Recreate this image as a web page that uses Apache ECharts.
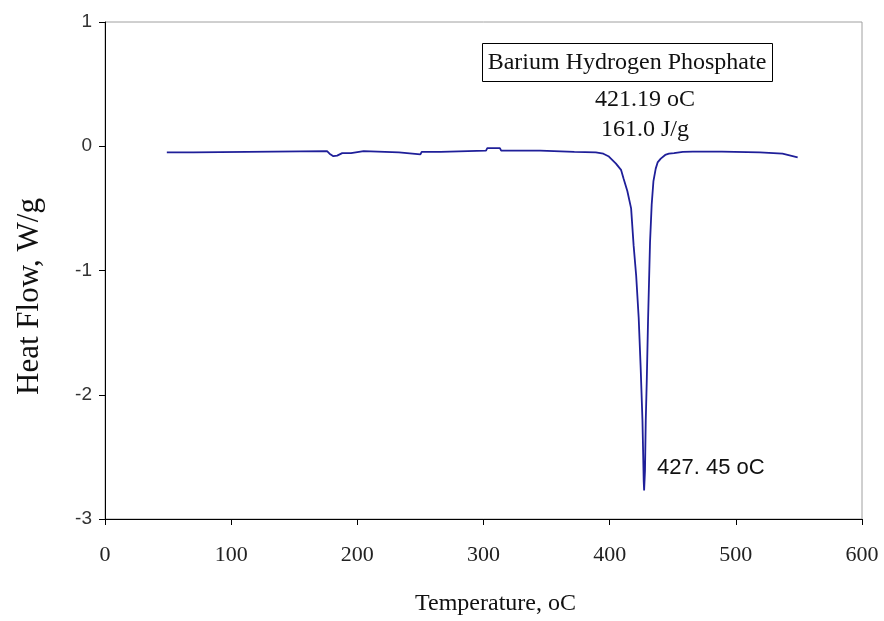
<!DOCTYPE html>
<html>
<head>
<meta charset="utf-8">
<script src="https://cdn.jsdelivr.net/npm/echarts@6/dist/echarts.min.js"></script>
<style>html,body{margin:0;padding:0;background:#fff}#c{width:884px;height:621px}</style>
</head>
<body>
<div id="c"></div>
<script>
const xTicks = [0, 100, 200, 300, 400, 500, 600];
const yTicks = [-3, -2, -1, 0, 1];
const temps = [49, 70, 71, 176, 178, 181, 184, 188, 195, 196, 205, 206, 233, 234, 250, 251, 266, 267, 302, 303, 313, 314, 345, 346, 372, 373, 389, 390, 395, 399, 402, 405, 409, 411, 414, 417, 419, 421, 423, 424.6, 426, 427, 427.3, 428, 428.6, 429.4, 430.4, 432, 433.3, 434.7, 436.5, 438, 440.5, 444, 447, 451, 458, 466, 489, 490, 519, 520, 537, 538, 549];
const heatFlow = [-0.05, -0.05, -0.04, -0.04, -0.06, -0.08, -0.075, -0.055, -0.055, -0.04, -0.04, -0.05, -0.05, -0.065, -0.065, -0.045, -0.045, -0.035, -0.035, -0.015, -0.015, -0.035, -0.035, -0.045, -0.045, -0.05, -0.05, -0.055, -0.06, -0.08, -0.11, -0.14, -0.19, -0.26, -0.36, -0.5, -0.8, -1.04, -1.38, -1.79, -2.21, -2.7, -2.77, -2.61, -2.21, -1.89, -1.41, -0.77, -0.47, -0.28, -0.18, -0.13, -0.1, -0.07, -0.06, -0.055, -0.045, -0.043, -0.043, -0.05, -0.05, -0.06, -0.06, -0.07, -0.09];

const data = temps.map((t, i) => [t, heatFlow[i]]);
const chart = echarts.init(document.getElementById('c'), null, {renderer: 'canvas'});
const serif = '"Liberation Serif", "Times New Roman", serif';
const sans = '"Liberation Sans", Arial, sans-serif';
chart.setOption({
  animation: false,
  backgroundColor: '#fff',
  grid: {left: 105, right: 22, top: 22, bottom: 101, show: true, borderColor: '#a0a0a0', borderWidth: 1, backgroundColor: 'transparent'},
  xAxis: {
    type: 'value', min: 0, max: 600, interval: 100,
    name: 'Temperature, oC', nameLocation: 'middle', nameGap: 73,
    nameTextStyle: {fontFamily: serif, fontSize: 24, color: '#111', padding: [0, 0, 0, 24]},
    axisLine: {show: true, onZero: false, lineStyle: {color: '#000', width: 1}},
    axisTick: {show: true, length: 6, lineStyle: {color: '#000'}},
    axisLabel: {fontFamily: serif, fontSize: 22, color: '#222', margin: 25, formatter: v => xTicks.includes(v) ? String(v) : ''},
    splitLine: {show: false}
  },
  yAxis: {
    type: 'value', min: -3, max: 1, interval: 1,
    name: 'Heat Flow, W/g', nameLocation: 'middle', nameGap: 60,
    nameTextStyle: {fontFamily: serif, fontSize: 31, color: '#111', padding: [0, 52, 0, 0]},
    axisLine: {show: true, onZero: false, lineStyle: {color: '#000', width: 1}},
    axisTick: {show: true, length: 6, lineStyle: {color: '#000'}},
    axisLabel: {fontFamily: sans, fontSize: 19, color: '#333', margin: 13, formatter: v => yTicks.includes(v) ? String(v) : ''},
    splitLine: {show: false}
  },
  series: [{
    type: 'line', data: data, showSymbol: false, smooth: false,
    lineStyle: {color: '#1f1f99', width: 1.8}
  }],
  graphic: [
    {type: 'rect', shape: {x: 482.5, y: 43.5, width: 290, height: 38}, style: {fill: '#fff', stroke: '#000', lineWidth: 1}},
    {type: 'text', x: 627, y: 63, style: {text: 'Barium Hydrogen Phosphate', fontFamily: serif, fontSize: 24, fill: '#111', align: 'center', verticalAlign: 'middle'}},
    {type: 'text', x: 645, y: 100, style: {text: '421.19 oC', fontFamily: serif, fontSize: 24, fill: '#111', align: 'center', verticalAlign: 'middle'}},
    {type: 'text', x: 645, y: 130, style: {text: '161.0 J/g', fontFamily: serif, fontSize: 24, fill: '#111', align: 'center', verticalAlign: 'middle'}},
    {type: 'text', x: 657, y: 468, style: {text: '427. 45 oC', fontFamily: sans, fontSize: 22, fill: '#111', align: 'left', verticalAlign: 'middle'}}
  ]
});
</script>
</body>
</html>
